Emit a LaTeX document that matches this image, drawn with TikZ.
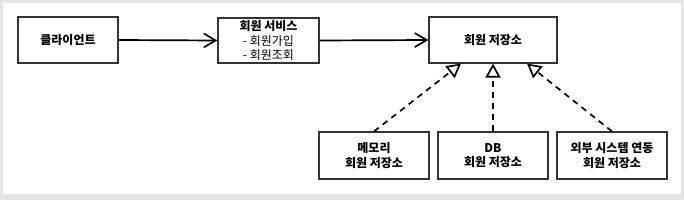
\documentclass[tikz,border=0pt]{standalone}
\usepackage{fontspec}
\setmainfont{Noto Sans CJK KR}
\usetikzlibrary{arrows.meta}
\begin{document}
\begin{tikzpicture}[x=1pt,y=-1pt,
  boxstyle/.style={draw=black!80, line width=1.2pt, fill=white, inner sep=0pt, align=center,
    font=\fontsize{12}{14.5}\selectfont},
  assoc/.style={line width=1.7pt, -{Straight Barb[length=12pt,width=14pt]}},
  realize/.style={line width=1.7pt, dash pattern=on 6pt off 5pt, -{Triangle[open,length=14pt,width=15pt]}}]
\fill[black!10] (0,0) rectangle (684,200);
\fill[white] (3,3) rectangle (681,194);
\useasboundingbox (0,0) rectangle (684,200);
\node[boxstyle, minimum width=100pt, minimum height=46pt] (client) at (68,40) {\textbf{클라이언트}};
\node[boxstyle, minimum width=101pt, minimum height=45pt] (service) at (268.5,40.5) {\textbf{회원 서비스}\\- 회원가입\\- 회원조회};
\node[boxstyle, minimum width=128pt, minimum height=46pt] (repo) at (493,40) {\textbf{회원 저장소}};
\node[boxstyle, minimum width=110pt, minimum height=47pt] (mem) at (374,155.5) {\textbf{메모리}\\\textbf{회원 저장소}};
\node[boxstyle, minimum width=110pt, minimum height=47pt] (db) at (493,155.5) {\textbf{DB}\\\textbf{회원 저장소}};
\node[boxstyle, minimum width=110pt, minimum height=47pt] (ext) at (612,155.5) {\textbf{외부 시스템 연동}\\\textbf{회원 저장소}};
\coordinate (t1) at (461,63.6);
\coordinate (t3) at (527,63.6);
\draw[assoc] (client.east) -- (service.west);
\draw[assoc] (service.east) -- (repo.west);
\draw[realize] (mem.north) -- (t1);
\draw[realize] (db.north) -- (repo.south);
\draw[realize] (ext.north) -- (t3);
\end{tikzpicture}
\end{document}
